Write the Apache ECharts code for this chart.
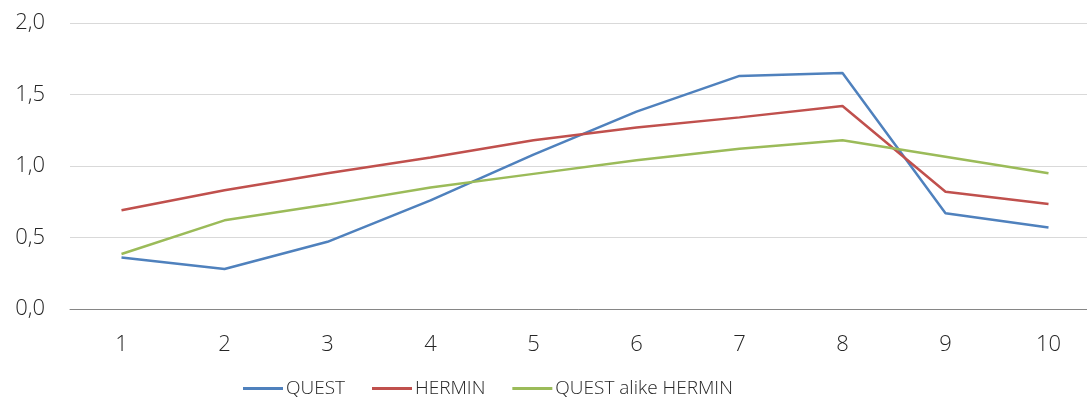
<!DOCTYPE html>
<html>
<head>
<meta charset="utf-8">
<script src="https://cdn.jsdelivr.net/npm/echarts@6/dist/echarts.min.js"></script>
<style>
  html, body { margin: 0; padding: 0; background: #fff; }
  #chart { width: 1087px; height: 398px; }
</style>
</head>
<body>
<div id="chart"></div>
<script>
const categories = ['1', '2', '3', '4', '5', '6', '7', '8', '9', '10'];
const quest = [0.36, 0.28, 0.47, 0.76, 1.08, 1.38, 1.63, 1.65, 0.67, 0.57];
const hermin = [0.69, 0.83, 0.95, 1.06, 1.18, 1.27, 1.34, 1.42, 0.82, 0.735];
const questAlikeHermin = [0.385, 0.62, 0.73, 0.85, 0.945, 1.04, 1.12, 1.18, 1.065, 0.95];
const seriesNames = ['QUEST', 'HERMIN', 'QUEST alike HERMIN'];
const colors = ['#4F81BD', '#C0504D', '#9BBB59'];

const font = '"Open Sans", "Noto Sans", sans-serif';
const textColor = '#262626';

const chart = echarts.init(document.getElementById('chart'));

function lineSeries(name, data, color) {
  return {
    name: name,
    type: 'line',
    data: data,
    symbol: 'none',
    smooth: false,
    lineStyle: { color: color, width: 2.5 },
    itemStyle: { color: color }
  };
}

chart.setOption({
  animation: false,
  color: colors,
  // plot runs past the right edge of the canvas
  grid: { left: 70, top: 23, width: 1030, height: 286, outerBoundsMode: 'none', containLabel: false },
  legend: {
    top: 374,
    left: 238,
    itemWidth: 40,
    itemHeight: 3,
    itemGap: 27,
    icon: 'rect',
    textStyle: { fontFamily: font, fontSize: 19, fontWeight: 300, color: textColor, padding: [0, 0, 0, -2] },
    data: seriesNames
  },
  xAxis: {
    type: 'category',
    data: categories,
    boundaryGap: true,
    axisLine: { lineStyle: { color: '#868686', width: 1 } },
    axisTick: { length: 8, lineStyle: { color: '#868686' } },
    axisLabel: { fontFamily: font, fontSize: 22, fontWeight: 300, color: textColor, margin: 25 }
  },
  yAxis: {
    type: 'value',
    min: 0,
    max: 2,
    interval: 0.5,
    axisLine: { show: false },
    axisTick: { show: false },
    splitLine: { lineStyle: { color: '#d9d9d9', width: 1 } },
    axisLabel: {
      fontFamily: font, fontSize: 22, fontWeight: 300, color: textColor, margin: 25,
      formatter: v => v.toFixed(1).replace('.', ',')
    }
  },
  series: [
    lineSeries(seriesNames[0], quest, colors[0]),
    lineSeries(seriesNames[1], hermin, colors[1]),
    lineSeries(seriesNames[2], questAlikeHermin, colors[2])
  ]
});
</script>
</body>
</html>
